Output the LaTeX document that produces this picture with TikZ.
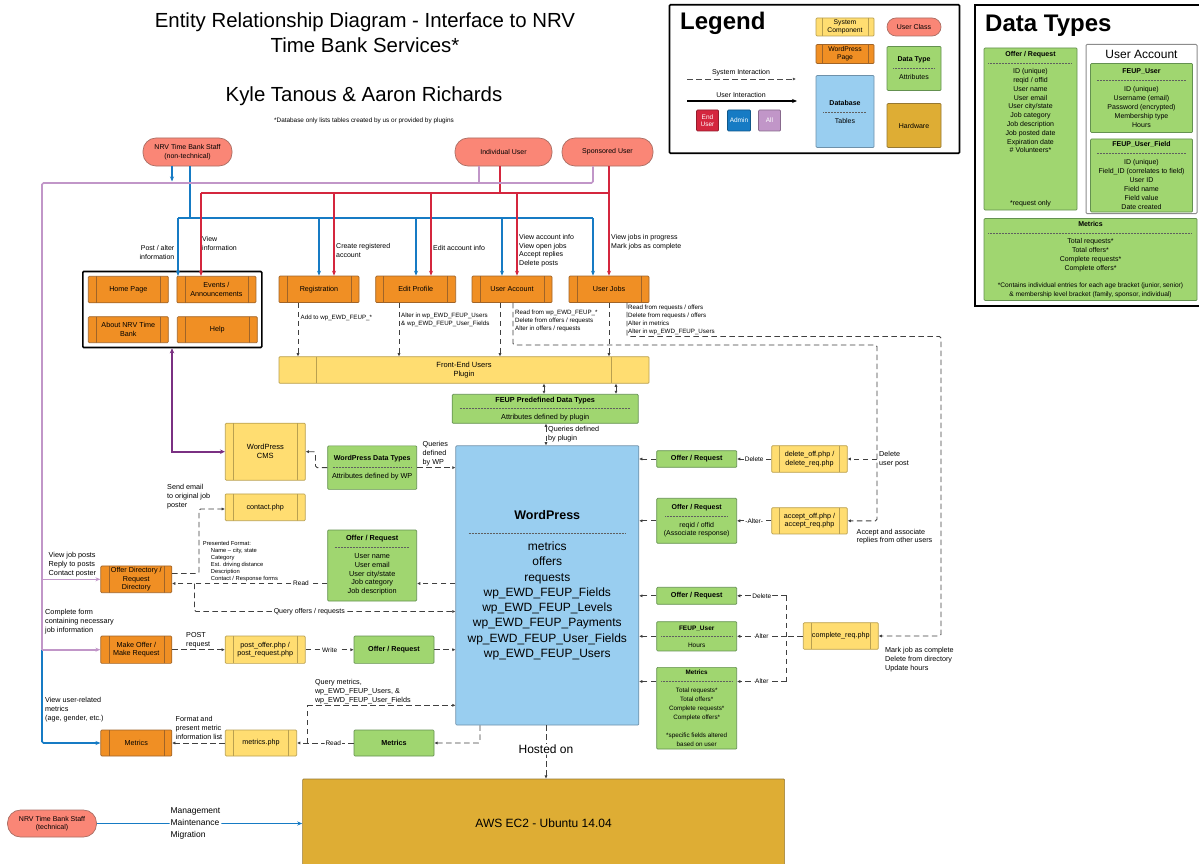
\documentclass[tikz,border=0pt]{standalone}
\usepackage{fontspec}
\setmainfont{Liberation Sans}
\usetikzlibrary{arrows.meta}
\newcommand\fsz[2]{\fontsize{#1}{#2}\selectfont}
\definecolor{dotgray}{RGB}{95,95,95}
\newcommand\dline[1]{\hbox to #1{\color{dotgray}\leaders\hbox to 1.5pt{\hss\vrule width 0.8pt height 2.4pt depth -1.85pt\hss}\hfill}}
\def\inoffv{8pt}
\definecolor{pgor}{RGB}{240,143,36}
\definecolor{pgorD}{RGB}{160,100,40}
\definecolor{cmpy}{RGB}{255,221,113}
\definecolor{cmpyD}{RGB}{185,160,80}
\definecolor{dtg}{RGB}{160,214,112}
\definecolor{dtgD}{RGB}{100,145,80}
\definecolor{dbb}{RGB}{153,206,240}
\definecolor{dbbD}{RGB}{110,145,170}
\definecolor{uclr}{RGB}{250,134,118}
\definecolor{uclrD}{RGB}{170,110,100}
\definecolor{hwc}{RGB}{222,173,52}
\definecolor{hwcD}{RGB}{150,120,50}
\definecolor{lred}{RGB}{212,38,62}
\definecolor{lblue}{RGB}{22,123,196}
\definecolor{lpurp}{RGB}{193,150,200}
\definecolor{dpurp}{RGB}{122,48,130}
\tikzset{
 bx/.style={draw, rectangle, inner sep=1pt, align=center, line width=0.7pt, rounded corners=1pt},
 inoff/.code={\def\inoffv{#1}},
 innerlines/.style={path picture={\draw[#1, line width=0.6pt]
   ([xshift=\inoffv]path picture bounding box.north west) -- ([xshift=\inoffv]path picture bounding box.south west)
   ([xshift=-\inoffv]path picture bounding box.north east) -- ([xshift=-\inoffv]path picture bounding box.south east);}},
 wppage/.style={bx, fill=pgor, draw=pgorD, font=\fsz{7.2}{8.6}, innerlines=pgorD},
 sysc/.style={bx, fill=cmpy, draw=cmpyD, font=\fsz{7.2}{8.6}, innerlines=cmpyD},
 dtype/.style={bx, fill=dtg, draw=dtgD, font=\fsz{6.3}{9}},
 dbase/.style={bx, fill=dbb, draw=dbbD},
 uclass/.style={bx, fill=uclr, draw=uclrD, rounded corners=13pt, font=\fsz{7}{8.5}},
 hware/.style={bx, fill=hwc, draw=hwcD},
 sysl/.style={draw=black!75, line width=0.9pt, dash pattern=on 5.5pt off 3.5pt, rounded corners=1.5pt},
 sys/.style={sysl, -{Latex[length=3.2pt,width=3.2pt]}},
 sysb/.style={sysl, {Latex[length=3.2pt,width=3.2pt]}-{Latex[length=3.2pt,width=3.2pt]}},
 admin/.style={draw=lblue, line width=1.6pt, rounded corners=1.5pt},
 enduser/.style={draw=lred, line width=1.6pt, rounded corners=1.5pt},
 allusr/.style={draw=lpurp, line width=1.6pt, rounded corners=1.5pt},
 tipc/.style={-{Stealth[length=5pt,width=4pt]}},
 lbl/.style={inner sep=0pt, align=left, font=\fsz{7}{8.8}, anchor=north west},
 slbl/.style={inner sep=0pt, align=left, font=\fsz{6.2}{7.8}, anchor=north west},
 onl/.style={fill=white, inner sep=0.8pt, font=\fsz{6.5}{7}},
}
\begin{document}
\begin{tikzpicture}[x=1pt, y=-1pt]
\useasboundingbox[fill=white] (0,0) rectangle (1199,864);

% ---------- title ----------
\node[font=\fsz{20.4}{25}, align=center, inner sep=0] (title) at (365,32.5) {Entity Relationship Diagram - Interface to NRV\\Time Bank Services*};
\node[font=\fsz{20.4}{22}, anchor=base, inner sep=0] (authors) at (364,101.7) {Kyle Tanous \& Aaron Richards};
\node[font=\fsz{6.4}{7}, anchor=base, inner sep=0] (dbnote) at (364,123) {*Database only lists tables created by us or provided by plugins};

% ---------- legend ----------
\node[draw, line width=1.6pt, minimum width=290, minimum height=148.5, inner sep=0, rounded corners=1pt] (legend) at (814.5,79) {};
\node[font=\fsz{24}{26}\bfseries, anchor=base west, inner sep=0] (legtitle) at (680,30) {Legend};
\node[sysc, minimum width=58, minimum height=18, font=\fsz{6.8}{7.8}, inoff=6pt] (lgcomp) at (845,27) {System\\Component};
\node[wppage, minimum width=58, minimum height=19, font=\fsz{6.8}{7.8}, inoff=6pt] (lgpage) at (845,54) {WordPress\\Page};
\node[dbase, minimum width=58, minimum height=72, font=\fsz{7}{9}] (lgdb) at (845,111.5) {\textbf{Database}\\\dline{44pt}\\Tables};
\node[uclass, minimum width=54, minimum height=18, rounded corners=9pt] (lgucls) at (914,27) {User Class};
\node[dtype, minimum width=54, minimum height=44, font=\fsz{7}{9}] (lgdt) at (914,68.5) {\textbf{Data Type}\\\dline{42pt}\\Attributes};
\node[hware, minimum width=54, minimum height=44, font=\fsz{7}{9}] (lghw) at (914,125.5) {Hardware};
\node[inner sep=0, font=\fsz{7}{8}] (lgsys) at (741,72.5) {System Interaction};
\coordinate (lgs1) at (687,79);
\coordinate (lgs2) at (796,79);
\draw[sys, draw=black!70] (lgs1) -- (lgs2);
\node[inner sep=0, font=\fsz{7}{8}] (lgusr) at (741,95) {User Interaction};
\coordinate (lgu1) at (687,101);
\coordinate (lgu2) at (797,101);
\draw[line width=1.3pt, -{Stealth[length=5pt,width=4pt]}] (lgu1) -- (lgu2);
\node[bx, fill=lred, draw=lred!70!black, text=white, minimum width=22, minimum height=21, font=\fsz{6.5}{7.5}] (lgend) at (707.5,120.5) {End\\User};
\node[bx, fill=lblue, draw=lblue!70!black, text=white, minimum width=23, minimum height=21, font=\fsz{6.5}{7.5}] (lgadm) at (739,120.5) {Admin};
\node[bx, fill=lpurp, draw=lpurp!70!black, text=white, minimum width=22, minimum height=21, font=\fsz{6.5}{7.5}] (lgall) at (769.5,120.5) {All};

% ---------- data types ----------
\node[draw, line width=1.6pt, minimum width=226, minimum height=301.5, inner sep=0] (dtbox) at (1088,155.5) {};
\node[font=\fsz{24}{26}\bfseries, anchor=base west, inner sep=0] (dttitle) at (985,31.7) {Data Types};
\node[dtype, minimum width=93, minimum height=162] (dtor) at (1030.5,129) {};
\node[font=\fsz{7}{8.8}, align=center, inner sep=0] (dtortext) at (1030.5,102) {\textbf{Offer / Request}\\\dline{85pt}\\ID (unique)\\reqid / offid\\User name\\User email\\User city/state\\Job category\\Job description\\Job posted date\\Expiration date\\\# Volunteers*};
\node[font=\fsz{7}{8.8}, inner sep=0] (dtornote) at (1030.5,204) {*request only};
\node[draw=black!45, line width=1pt, minimum width=111, minimum height=169, inner sep=0, rounded corners=1pt] (uacc) at (1141.5,129) {};
\node[font=\fsz{12}{14}, inner sep=0] (uacctitle) at (1141.5,54) {User Account};
\node[dtype, minimum width=102, minimum height=69, font=\fsz{7}{8.9}] (dtfu) at (1141.5,98) {\textbf{FEUP\_User}\\\dline{90pt}\\ID (unique)\\Username (email)\\Password (encrypted)\\Membership type\\Hours};
\node[dtype, minimum width=102, minimum height=73, font=\fsz{7}{8.86}] (dtfuf) at (1141.5,175.5) {\textbf{FEUP\_User\_Field}\\\dline{90pt}\\ID (unique)\\Field\_ID (correlates to field)\\User ID\\Field name\\Field value\\Date created};
\node[dtype, minimum width=213, minimum height=82, font=\fsz{7}{8.75}] (dtmet) at (1090.5,259.5) {\textbf{Metrics}\\\dline{205pt}\\Total requests*\\Total offers*\\Complete requests*\\Complete offers*\\[8.75pt]\fsz{6.6}{8.75}*Contains individual entries for each age bracket (junior, senior)\\\fsz{6.6}{8.75}\& membership level bracket (family, sponsor, individual)};

% ---------- user classes ----------
\node[uclass, minimum width=89, minimum height=28] (staff) at (187.5,152) {NRV Time Bank Staff\\(non-technical)};
\node[uclass, minimum width=97, minimum height=28] (indiv) at (503.5,152) {Individual User};
\node[uclass, minimum width=91, minimum height=28] (spons) at (607.5,152) {Sponsored User};
\node[uclass, minimum width=89, minimum height=27] (tech) at (52,823.5) {NRV Time Bank Staff\\(technical)};

% ---------- pages ----------
\node[draw, line width=1.6pt, minimum width=179, minimum height=76, inner sep=0, rounded corners=1pt] (grp) at (172.3,309.5) {};
\node[wppage, minimum width=80, minimum height=26.5] (home) at (128.3,289.5) {Home Page};
\node[wppage, minimum width=79, minimum height=26.5] (events) at (216.4,289.5) {Events /\\Announcements};
\node[wppage, minimum width=80, minimum height=26] (about) at (128.3,329.7) {About NRV Time\\Bank};
\node[wppage, minimum width=80, minimum height=26] (help) at (217.3,329.7) {Help};
\node[wppage, minimum width=80, minimum height=26.5] (reg) at (319,289.3) {Registration};
\node[wppage, minimum width=80, minimum height=26.5] (edit) at (415.7,289.3) {Edit Profile};
\node[wppage, minimum width=80, minimum height=26.5] (acct) at (512,289.3) {User Account};
\node[wppage, minimum width=80, minimum height=26.5] (jobs) at (609,289.3) {User Jobs};
\node[sysc, minimum width=370, minimum height=26.6, inoff=37.7pt, font=\fsz{7.5}{9}] (plugin) at (464,370) {Front-End Users\\Plugin};
\node[dtype, minimum width=186, minimum height=29, font=\fsz{7.3}{8.6}] (feupdt) at (545.2,408.8) {\textbf{FEUP Predefined Data Types}\\\dline{172pt}\\Attributes defined by plugin};
\node[dbase, minimum width=183, minimum height=279.3, font=\fsz{12}{15.3}] (wp) at (547.3,585.4) {\fsz{12.5}{16}\textbf{WordPress}\\\dline{158pt}\\metrics\\offers\\requests\\wp\_EWD\_FEUP\_Fields\\wp\_EWD\_FEUP\_Levels\\wp\_EWD\_FEUP\_Payments\\wp\_EWD\_FEUP\_User\_Fields\\wp\_EWD\_FEUP\_Users};
\node[sysc, minimum width=80, minimum height=57, font=\fsz{7.5}{9}] (cms) at (265.3,451.7) {WordPress\\CMS};
\node[dtype, minimum width=89, minimum height=43.5, font=\fsz{7.3}{9}] (wpdt) at (372.2,467.6) {\fsz{7.1}{9}\textbf{WordPress Data Types}\\\dline{80pt}\\Attributes defined by WP};
\node[sysc, minimum width=80, minimum height=26.7] (contact) at (265.2,507.3) {contact.php};
\node[wppage, minimum width=71, minimum height=26.7] (odir) at (136.3,579.3) {Offer Directory /\\Request\\Directory};
\node[dtype, minimum width=89, minimum height=71, font=\fsz{7.3}{8.8}] (orlist) at (372.2,565.5) {\textbf{Offer / Request}\\\dline{76pt}\\User name\\User email\\User city/state\\Job category\\Job description};
\node[wppage, minimum width=71, minimum height=27.3] (mkoff) at (136.3,649.7) {Make Offer /\\Make Request};
\node[sysc, minimum width=80, minimum height=27.3] (post) at (265.2,649.7) {post\_offer.php /\\post\_request.php};
\node[dtype, minimum width=80, minimum height=27.3, font=\fsz{7.2}{9}] (orw) at (394,649.7) {\textbf{Offer / Request}};
\node[wppage, minimum width=71, minimum height=26] (mmet) at (136.3,743) {Metrics};
\node[sysc, minimum width=71.4, minimum height=26] (metphp) at (261,743) {metrics.php};
\node[dtype, minimum width=80, minimum height=26, font=\fsz{7.2}{9}] (gmet) at (394,743) {\textbf{Metrics}};

% right column
\node[dtype, minimum width=80, minimum height=16.6, font=\fsz{7.2}{9}] (or1) at (696.7,459) {\textbf{Offer / Request}};
\node[sysc, minimum width=75.6, minimum height=26.6] (delphp) at (809.5,459) {delete\_off.php /\\delete\_req.php};
\node[dtype, minimum width=80, minimum height=45, font=\fsz{7}{8.8}] (or2) at (696.7,520.8) {\textbf{Offer / Request}\\\dline{64pt}\\reqid / offid\\(Associate response)};
\node[sysc, minimum width=75.6, minimum height=26.3] (accphp) at (809.5,520.8) {accept\_off.php /\\accept\_req.php};
\node[dtype, minimum width=80, minimum height=17, font=\fsz{7.2}{9}] (or3) at (696.7,595.8) {\textbf{Offer / Request}};
\node[dtype, minimum width=80, minimum height=29.3, font=\fsz{6.5}{8.5}] (fuser) at (696.7,636.3) {\textbf{FEUP\_User}\\\dline{72pt}\\Hours};
\node[dtype, minimum width=80, minimum height=81.7, font=\fsz{6.3}{9}] (rmet) at (696.7,708.2) {\textbf{Metrics}\\\dline{72pt}\\Total requests*\\Total offers*\\Complete requests*\\Complete offers*\\[9pt]*specific fields altered\\based on user};
\node[sysc, minimum width=75, minimum height=26.6] (complete) at (840.8,636) {complete\_req.php};
\node[hware, minimum width=482, minimum height=89, font=\fsz{12}{14}] (aws) at (543.6,823.5) {AWS EC2 - Ubuntu 14.04};

% ---------- user connectors ----------
\draw[admin] (190,0 |- staff.south) -- (190,218);
\draw[admin, tipc] (42,649.7) -- (42,0 |- mmet.west) -- (mmet.west);
\draw[admin] (178,218) -- (593,218);
\draw[admin, tipc] (178,218) -- (178,0 |- events.north);
\draw[admin, tipc] (319,218) -- (319,0 |- reg.north);
\draw[admin, tipc] (416,218) -- (416,0 |- edit.north);
\draw[admin, tipc] (502,218) -- (502,0 |- acct.north);
\draw[admin, tipc] (593,218) -- (593,0 |- jobs.north);
\draw[admin, tipc] (172,0 |- staff.south) -- (172,181.5);

\draw[enduser] (500,0 |- indiv.south) -- (500,193);
\draw[enduser] (201,193) -- (609,193);
\draw[enduser, tipc] (609,0 |- spons.south) -- (609,0 |- jobs.north);
\draw[enduser, tipc] (201,193) -- (201,0 |- events.north);
\draw[enduser, tipc] (334,193) -- (334,0 |- reg.north);
\draw[enduser, tipc] (431,193) -- (431,0 |- edit.north);
\draw[enduser, tipc] (517,193) -- (517,0 |- acct.north);

\draw[allusr] (479,0 |- indiv.south) -- (479,183);
\draw[allusr] (593,0 |- spons.south) -- (593,183) -- (42,183) -- (42,0 |- mkoff.west);
\draw[allusr, tipc] (42,0 |- mkoff.west) -- (mkoff.west);
\draw[allusr, tipc] (42,0 |- odir.west) -- (odir.west);

\draw[line width=2pt, draw=dpurp, {Stealth[length=5pt,width=4.5pt]}-{Stealth[length=5pt,width=4.5pt]}] (172,0 |- grp.south) -- (172,0 |- cms.west) -- (cms.west);

\draw[admin, tipc] (tech.east) -- node[fill=white, inner sep=1pt, align=left, font=\fsz{8.5}{11.8}, pos=0.48] (mgmt) {Management\\Maintenance\\Migration} (aws.west |- tech.east);

% ---------- system connectors ----------
\draw[sys] (298,0 |- reg.south) -- (298,0 |- plugin.north);
\draw[sys] (399,0 |- edit.south) -- (399,0 |- plugin.north);
\draw[sys] (500,0 |- acct.south) -- (500,0 |- plugin.north);
\draw[sys] (609,0 |- jobs.south) -- (609,0 |- plugin.north);
\draw[sys] (513,0 |- acct.south) -- (513,345) -- (877,345) -- (877,0 |- accphp.east) -- (accphp.east);
\draw[sys] (877,0 |- delphp.east) -- (delphp.east);
\draw[sys] (627,0 |- jobs.south) -- (627,336.5) -- (941,336.5) -- (941,0 |- complete.east) -- (complete.east);
\draw[sysb] (544,0 |- plugin.south) -- (544,0 |- feupdt.north);
\draw[sysb] (616,0 |- plugin.south) -- (616,0 |- feupdt.north);
\draw[sysb] (546,0 |- feupdt.south) -- (546,0 |- wp.north);
\draw[sys] (wpdt.west) -- (315.5,0 |- wpdt.west) -- (315.5,0 |- cms.east) -- (cms.east);
\draw[sys] (wpdt.east) -- (wp.west |- wpdt.east);
\draw[sys] (odir.east |- 0,573.5) -- (199,573.5) -- (199,509) -- (contact.west |- 0,509);
\draw[sys] (wp.west |- 0,583.5) -- (orlist.east |- 0,583.5);
\draw[sys] (orlist.west |- 0,583.5) -- node[onl, pos=0.17] {Read} (odir.east |- 0,583.5);
\draw[sys] (194.5,583.5) -- (194.5,611.5) -- node[onl, pos=0.44, font=\fsz{7}{8}] {Query offers / requests} (wp.west |- 0,611.5);
\draw[sys] (mkoff.east) -- (post.west);
\draw[sys] (post.east) -- node[onl] {Write} (orw.west);
\draw[sys] (orw.east) -- (wp.west |- orw.east);
\draw[sys] (metphp.west) -- (mmet.east);
\draw[sys] (gmet.west) -- node[onl, pos=0.36] {Read} (metphp.east);
\draw[sysl] (307,0 |- gmet.west) -- (307,705.3);
\draw[sys] (307,705.3) -- (wp.west |- 0,705.3);
\draw[sys] (480,0 |- wp.south) -- (480,0 |- gmet.east) -- (gmet.east);

\draw[sys] (delphp.west) -- node[onl] {Delete} (or1.east);
\draw[sys] (or1.west) -- (wp.east |- or1.west);
\draw[sys] (accphp.west) -- node[onl] {-Alter-} (or2.east);
\draw[sys] (or2.west) -- (wp.east |- or2.west);
\draw[sysl] (complete.west) -- (786.7,0 |- complete.west);
\draw[sysl] (786.7,0 |- or3.east) -- (786.7,681.5);
\draw[sys] (786.7,0 |- or3.east) -- node[onl] {Delete} (or3.east);
\draw[sys] (786.7,0 |- fuser.east) -- node[onl] {Alter} (fuser.east);
\draw[sys] (786.7,681.5) -- node[onl] {Alter} (rmet.east |- 0,681.5);
\draw[sys] (or3.west) -- (wp.east |- or3.west);
\draw[sys] (fuser.west) -- (wp.east |- fuser.west);
\draw[sys] (rmet.west |- 0,681.5) -- (wp.east |- 0,681.5);
\draw[sys] (546,0 |- wp.south) -- node[onl, font=\fsz{12}{14}, pos=0.45] (hosted) {Hosted on} (546,0 |- aws.north);

% ---------- labels ----------
\node[lbl, align=right, anchor=north east] (lpost) at (174.5,245) {Post / alter\\information};
\node[lbl] (lview) at (202,236.5) {View\\information};
\node[lbl] (lcreate) at (336,243.3) {Create registered\\account};
\node[lbl] (ledit) at (433,245.3) {Edit account info};
\node[lbl, font=\fsz{7}{8.7}] (lacct) at (519,234.3) {View account info\\View open jobs\\Accept replies\\Delete posts};
\node[lbl, font=\fsz{7}{8.5}] (ljobs) at (611,234.3) {View jobs in progress\\Mark jobs as complete};
\node[slbl] (ladd) at (300.5,314.7) {Add to wp\_EWD\_FEUP\_*};
\node[slbl] (lalter) at (401,313) {Alter in wp\_EWD\_FEUP\_Users\\\& wp\_EWD\_FEUP\_User\_Fields};
\node[slbl] (lread) at (515,309.8) {Read from wp\_EWD\_FEUP\_*\\Delete from offers / requests\\Alter in offers / requests};
\node[slbl] (lreadj) at (628,305) {Read from requests / offers\\Delete from requests / offers\\Alter in metrics\\Alter in wp\_EWD\_FEUP\_Users};
\node[lbl, font=\fsz{7.2}{9}] (lqplug) at (548,426.3) {Queries defined\\by plugin};
\node[lbl, font=\fsz{7.2}{9}] (lqwp) at (422.5,441) {Queries\\defined\\by WP};
\node[lbl, font=\fsz{7.2}{9}] (lsend) at (167,484.3) {Send email\\to original job\\poster};
\node[lbl, font=\fsz{5.8}{7.1}] (lfmt) at (202.7,540.9) {Presented Format:\\\hspace*{8pt}Name -- city, state\\\hspace*{8pt}Category\\\hspace*{8pt}Est. driving distance\\\hspace*{8pt}Description\\\hspace*{8pt}Contact / Response forms};
\node[lbl, font=\fsz{7.3}{9}] (lviewjob) at (48.5,552.3) {View job posts\\Reply to posts\\Contact poster};
\node[lbl, font=\fsz{7.3}{9}] (lcomplete) at (45,609.3) {Complete form\\containing necessary\\job information};
\node[lbl, font=\fsz{7.2}{9}] (lpostreq) at (186,632) {POST\\request};
\node[lbl, font=\fsz{7.2}{8.8}] (luserrel) at (45,697.3) {View user-related\\metrics\\(age, gender, etc.)};
\node[lbl, font=\fsz{7.2}{9}] (lformat) at (175.5,716) {Format and\\present metric\\information list};
\node[lbl, font=\fsz{7.2}{8.8}] (lqmet) at (314.8,679) {Query metrics,\\wp\_EWD\_FEUP\_Users, \&\\wp\_EWD\_FEUP\_User\_Fields};
\node[lbl, font=\fsz{7.2}{9}] (ldelpost) at (879,451.3) {Delete\\user post};
\node[lbl, font=\fsz{7.2}{8.7}] (laccept) at (856.5,528.6) {Accept and associate\\replies from other users};
\node[lbl, font=\fsz{7.2}{8.8}] (lmark) at (885,647.3) {Mark job as complete\\Delete from directory\\Update hours};
\end{tikzpicture}
\end{document}
